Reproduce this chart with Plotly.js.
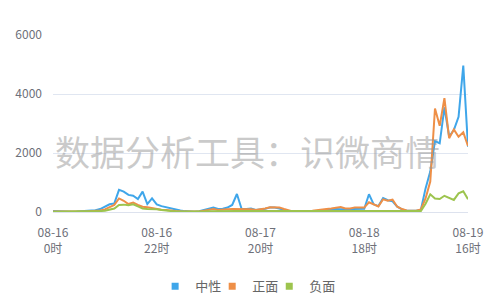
<!DOCTYPE html>
<html>
<head>
<meta charset="utf-8">
<script src="https://cdn.plot.ly/plotly-3.0.1.min.js"></script>
<style>html,body{margin:0;padding:0;background:#fff;}#chart{width:500px;height:300px;}</style>
</head>
<body>
<div id="chart"></div>
<script>
// hours since 08-16 0时
const hours = Array.from({length: 89}, (_, i) => i);
const tickHours = [0, 22, 44, 66, 88];
const tickLabels = ["08-16<br>0时", "08-16<br>22时", "08-17<br>20时", "08-18<br>18时", "08-19<br>16时"];
const seriesNames = ["中性", "正面", "负面"];
const seriesColors = ["#3fa6ea", "#ee8f47", "#9dc44e"];

const neutral = [30,20,15,10,10,15,20,30,40,60,
  100,180,260,290,750,690,580,550,440,690,
  270,460,260,200,160,110,80,50,30,15,
  10,30,70,100,150,100,110,150,240,610,
  100,100,120,70,80,110,150,150,120,70,
  30,10,10,10,15,20,30,50,70,80,
  100,90,90,110,110,110,110,600,260,200,
  470,400,360,180,90,45,35,45,70,800,
  1370,2400,2330,3550,2560,2780,3230,4960,2210];

const positive = [20,15,10,10,10,10,15,20,25,30,
  50,90,160,240,460,380,270,320,240,180,
  160,135,90,80,70,45,35,25,20,15,
  10,20,45,60,100,70,90,90,100,100,
  80,90,90,70,90,120,160,160,150,100,
  45,10,10,10,35,45,55,80,100,120,
  150,170,120,120,150,150,150,330,260,190,
  430,380,420,180,100,55,45,45,90,460,
  1030,3510,2920,3860,2500,2800,2550,2700,2240];

const negative = [10,10,10,10,10,10,10,10,12,15,
  30,45,70,120,240,250,230,260,190,120,
  100,100,90,70,45,35,25,20,15,10,
  10,15,20,25,30,30,35,35,35,30,
  30,30,30,30,35,35,35,35,30,25,
  20,15,15,15,20,20,20,25,25,30,
  30,30,30,30,30,30,30,30,30,25,
  25,25,25,20,20,20,20,25,30,280,
  600,460,440,550,490,410,630,700,430];

const values = [neutral, positive, negative];
const FONT = "'Noto Sans CJK SC', 'Noto Sans', sans-serif";
const legendIds = ['legend', 'legend2', 'legend3'];
const legendX = [0.2461, 0.3836, 0.5211];

const traces = [];
values.forEach((v, i) => {
  traces.push({
    x: hours, y: v, type: 'scatter', mode: 'lines',
    line: {color: seriesColors[i], width: 2},
    name: seriesNames[i], legendgroup: 'g' + i, showlegend: false,
    hoverinfo: 'x+y'
  });
});
seriesNames.forEach((n, i) => {
  traces.push({
    x: [null], y: [null], type: 'scatter', mode: 'markers',
    marker: {color: seriesColors[i], symbol: 'square', size: 7},
    name: n, legendgroup: 'g' + i, showlegend: true, legend: legendIds[i]
  });
});

const layout = {
  width: 500, height: 300,
  margin: {l: 53, r: 32, t: 35, b: 88, autoexpand: false},
  paper_bgcolor: '#fff', plot_bgcolor: '#fff',
  font: {family: FONT, size: 12, color: '#6e7079'},
  showlegend: true,
  xaxis: {
    range: [0, 88], tickmode: 'array', tickvals: tickHours, ticktext: tickLabels,
    showgrid: false, zeroline: false, showline: true, linecolor: '#dde2ee', linewidth: 1,
    ticks: '', ticklabelstandoff: 10,
    tickfont: {family: FONT, size: 12, color: '#6e7079'}, fixedrange: true
  },
  yaxis: {
    range: [0, 6000], tickmode: 'array', tickvals: [0, 2000, 4000, 6000],
    showgrid: true, gridcolor: '#e0e6f1', gridwidth: 1, zeroline: false, showline: false,
    ticks: '', ticklabelstandoff: 10,
    tickfont: {family: FONT, size: 12, color: '#6e7079'}, fixedrange: true
  },
  annotations: [{
    text: '数据分析工具：识微商情', xref: 'paper', yref: 'paper',
    x: 0.4685, y: 0.345, xanchor: 'center', yanchor: 'middle', showarrow: false,
    font: {family: FONT, size: 35, color: 'rgba(150,150,150,0.5)'}
  }]
};
legendIds.forEach((id, i) => {
  layout[id] = {
    orientation: 'h', x: legendX[i], xanchor: 'left', y: -0.42, yanchor: 'middle',
    font: {family: FONT, size: 13, color: '#666'},
    itemwidth: 30, bgcolor: 'rgba(0,0,0,0)'
  };
});

Plotly.newPlot('chart', traces, layout, {displayModeBar: false, staticPlot: true});
</script>
</body>
</html>
